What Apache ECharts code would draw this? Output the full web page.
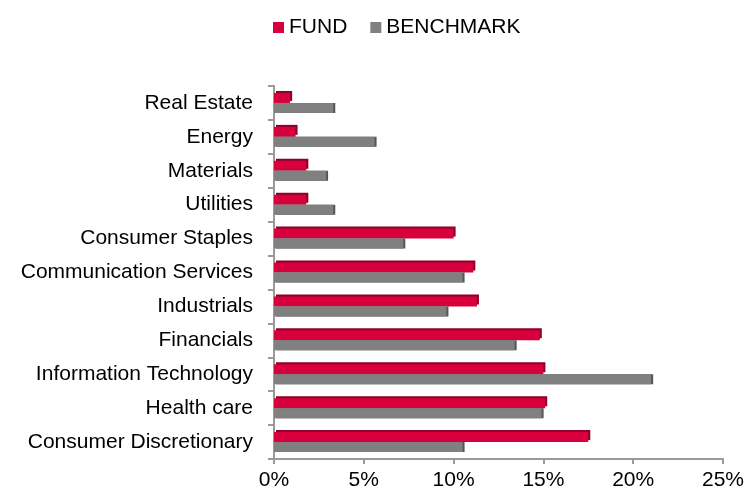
<!DOCTYPE html>
<html>
<head>
<meta charset="utf-8">
<script src="https://cdn.jsdelivr.net/npm/echarts@6/dist/echarts.min.js"></script>
<style>html,body{margin:0;padding:0;background:#fff}#c{width:748px;height:497px}</style>
</head>
<body>
<div id="c"></div>
<script>
const categories = ["Real Estate","Energy","Materials","Utilities","Consumer Staples","Communication Services","Industrials","Financials","Information Technology","Health care","Consumer Discretionary"];
const fund = [0.9, 1.2, 1.8, 1.8, 10.0, 11.1, 11.3, 14.8, 15.0, 15.1, 17.5];
const benchmark = [3.3, 5.6, 2.9, 3.3, 7.2, 10.5, 9.6, 13.4, 21.0, 14.9, 10.5];
const xTicks = [0, 5, 10, 15, 20, 25];

const chart = echarts.init(document.getElementById('c'));
const font = '"Liberation Sans", Arial, sans-serif';
chart.setOption({
  animation: false,
  textStyle: {fontFamily: font},
  legend: {
    top: 12, left: 268,
    itemWidth: 11, itemHeight: 11, itemGap: 23,
    icon: 'rect',
    itemStyle: {borderWidth: 0, shadowBlur: 0, shadowOffsetX: 0, shadowOffsetY: 0, shadowColor: 'transparent'},
    textStyle: {fontSize: 21, color: '#000', fontFamily: font},
    data: ['FUND', 'BENCHMARK']
  },
  grid: {left: 274, right: 25, top: 86, bottom: 38, containLabel: false},
  xAxis: {
    type: 'value', min: xTicks[0], max: xTicks[xTicks.length-1], interval: 5,
    axisLine: {show: true, lineStyle: {color: '#9a9a9a', width: 2}},
    axisTick: {show: true, length: 5, lineStyle: {color: '#9a9a9a', width: 2}},
    splitLine: {show: false},
    axisLabel: {formatter: v => v + '%', fontSize: 21, color: '#000', margin: 11, fontFamily: font}
  },
  yAxis: {
    type: 'category', data: categories, inverse: true,
    axisLine: {show: true, lineStyle: {color: '#9a9a9a', width: 2}},
    axisTick: {show: true, length: 6, lineStyle: {color: '#9a9a9a', width: 2}},
    axisLabel: {fontSize: 21, color: '#000', margin: 21, fontFamily: font}
  },
  series: [
    {name: 'FUND', type: 'bar', data: fund, barWidth: 10, barGap: '0%',
     itemStyle: {color: '#D7003C', shadowColor: '#8e0027', shadowBlur: 0, shadowOffsetX: 2, shadowOffsetY: -2}},
    {name: 'BENCHMARK', type: 'bar', data: benchmark, barWidth: 10, barGap: '0%',
     itemStyle: {color: '#808080', shadowColor: '#555555', shadowBlur: 0, shadowOffsetX: 2, shadowOffsetY: 0}}
  ]
});
</script>
</body>
</html>
